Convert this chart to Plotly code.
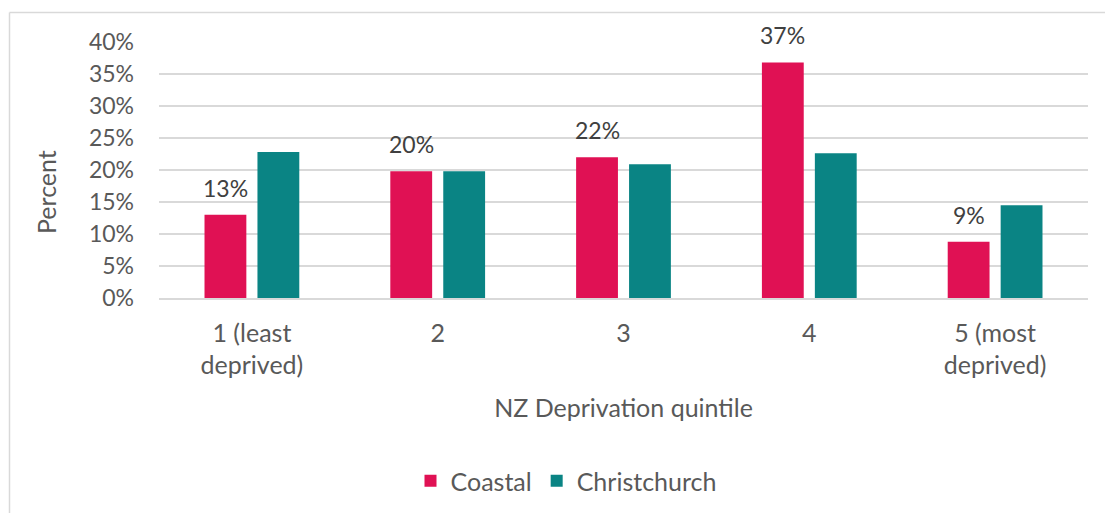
import plotly.graph_objects as go

categories = ["1 (least<br>deprived)", "2", "3", "4", "5 (most<br>deprived)"]
coastal = [13.0, 19.8, 22.0, 36.8, 8.8]
christchurch = [22.8, 19.8, 20.9, 22.6, 14.5]
coastal_labels = ["13%", "20%", "22%", "37%", "9%"]

OFF = 8  # page body margin
W, H = 1113 - OFF, 513 - OFF
L, R, T, B = 159 - OFF, 25, 42 - OFF, 215
pw, ph = W - L - R, H - T - B

def px(x):
    return (x - OFF - L) / pw

def py(y):
    return (H - B - (y - OFF)) / ph

FONT = "Lato"
FS = 23
FX = 25
fig = go.Figure()
fig.add_trace(go.Bar(
    name="Coastal", x=categories, y=coastal, marker_color="#E01154",
    marker_line_width=0,
))
fig.add_trace(go.Bar(
    name="Christchurch", x=categories, y=christchurch, marker_color="#0A8484",
    marker_line_width=0,
))

annotations = [
    dict(x=i, y=v, text=t, xref="x", yref="y", showarrow=False, xanchor="center", yanchor="bottom",
         xshift=-26.5, yshift=11, font=dict(family=FONT, size=FS, color="#404040"))
    for i, (v, t) in enumerate(zip(coastal, coastal_labels))
]
annotations.append(dict(
    x=px(46), y=py(192), xref="paper", yref="paper", text="Percent", textangle=-90,
    showarrow=False, xanchor="center", yanchor="middle",
    font=dict(family=FONT, size=FX, color="#595959"),
))

fig.update_layout(
    width=W, height=H,
    margin=dict(l=L, r=R, t=T, b=B, autoexpand=False),
    paper_bgcolor="white", plot_bgcolor="white",
    barmode="group", bargap=0.43, bargroupgap=0.21,
    font=dict(family=FONT, size=FS, color="#595959"),
    showlegend=True,
    legend=dict(orientation="h", x=px(566), xanchor="center", y=py(481), yanchor="middle",
                font=dict(family=FONT, size=FX, color="#595959"),
                itemwidth=30, traceorder="normal"),
    annotations=annotations,
    shapes=[
        dict(type="line", xref="paper", yref="paper", x0=px(9.5), x1=px(1113), y0=py(12.5), y1=py(12.5),
             line=dict(color="#D9D9D9", width=1.5)),
        dict(type="line", xref="paper", yref="paper", x0=px(9.5), x1=px(9.5), y0=py(12.5), y1=py(513),
             line=dict(color="#D9D9D9", width=1.5)),
    ],
)
fig.update_yaxes(
    range=[0, 40], dtick=5, ticksuffix="%", showgrid=True, gridcolor="#D9D9D9", gridwidth=1.5,
    zeroline=False, showline=False, ticks="", tickfont=dict(size=FS, color="#595959"),
    ticklabelstandoff=24,
)
fig.update_xaxes(
    showline=True, linecolor="#D9D9D9", linewidth=1.5, ticks="",
    tickfont=dict(size=FX, color="#595959"), ticklabelstandoff=12,
    title=dict(text="NZ Deprivation quintile", font=dict(size=FX, color="#595959"), standoff=21),
)

fig.write_html("out.html")
